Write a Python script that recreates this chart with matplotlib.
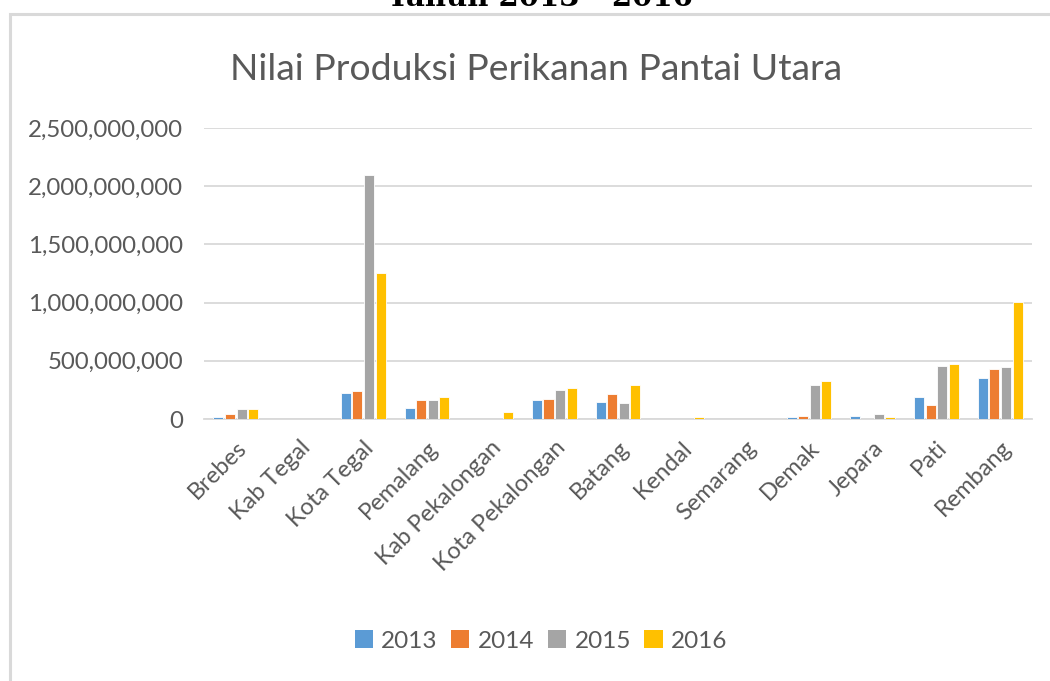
import matplotlib
matplotlib.use("Agg")
import matplotlib.pyplot as plt
from matplotlib.patches import Patch, Rectangle
from matplotlib.ticker import FuncFormatter
import numpy as np

categories = ["Brebes", "Kab Tegal", "Kota Tegal", "Pemalang", "Kab Pekalongan",
              "Kota Pekalongan", "Batang", "Kendal", "Semarang", "Demak",
              "Jepara", "Pati", "Rembang"]
years = ["2013", "2014", "2015", "2016"]
v2013 = [20e6, 0, 226e6, 97e6, 0, 160e6, 149e6, 0, 0, 15e6, 30e6, 186e6, 355e6]
v2014 = [43e6, 0, 240e6, 160e6, 0, 175e6, 215e6, 0, 0, 30e6, 0, 123e6, 432e6]
v2015 = [83e6, 0, 2100e6, 160e6, 0, 252e6, 138e6, 0, 0, 290e6, 45e6, 458e6, 447e6]
v2016 = [83e6, 0, 1258e6, 186e6, 60e6, 266e6, 292e6, 15e6, 0, 327e6, 15e6, 472e6, 1003e6]
series = [v2013, v2014, v2015, v2016]
colors = ["#5B9BD5", "#ED7D31", "#A5A5A5", "#FFC000"]

W, H = 1050, 681
fig = plt.figure(figsize=(W / 100, H / 100), dpi=100)
fig.patch.set_facecolor("white")
txt = "#595959"
font = "Lato"

ax = fig.add_axes([204 / W, 1 - 419 / H, (1032 - 204) / W, (419 - 128) / H])
x = np.arange(len(categories))
pitch, bw = 0.182, 0.158
for i, (vals, c) in enumerate(zip(series, colors)):
    ax.bar(x + (i - 1.5) * pitch, vals, width=bw, color=c, edgecolor="white",
           linewidth=0.6, zorder=3, label=years[i])

ax.set_xlim(-0.5, len(categories) - 0.5)
ax.set_ylim(0, 2.5e9)
ax.set_yticks(np.arange(0, 2.5e9 + 1, 5e8))
ax.yaxis.set_major_formatter(FuncFormatter(lambda v, p: f"{int(v):,}"))
ax.grid(axis="y", color="#D9D9D9", linewidth=1.3, zorder=0)
for s in ["top", "right", "left"]:
    ax.spines[s].set_visible(False)
ax.spines["bottom"].set_color("#D9D9D9")
ax.spines["bottom"].set_linewidth(1.3)
ax.tick_params(axis="both", length=0, colors=txt)
ax.tick_params(axis="y", pad=15)
ax.tick_params(axis="x", pad=13)
for lab in ax.get_yticklabels():
    lab.set_fontfamily(font)
    lab.set_fontsize(17.3)
ax.set_xticks(x)
ax.set_xticklabels(categories, rotation=45, ha="right", va="top",
                   rotation_mode="anchor", fontsize=17, family=font, color=txt)

# chart title
t = fig.text(536 / W, 1 - 70 / H, "Nilai Produksi Perikanan Pantai Utara",
             ha="center", va="center", fontsize=28, family=font, color=txt)
fig.canvas.draw()
wpx = t.get_window_extent().width
t.set_fontsize(28 * 612 / wpx)

# legend
handles = [Patch(facecolor=c, edgecolor="none", label=y) for c, y in zip(colors, years)]
fig.legend(handles=handles, loc="center", bbox_to_anchor=(541 / W, 1 - 641 / H),
           ncol=4, frameon=False, prop={"family": font, "size": 17.5},
           labelcolor=txt, handlelength=0.75, handleheight=0.75,
           handletextpad=0.35, columnspacing=0.55)

# chart area border
fig.add_artist(Rectangle((10 / W, -0.2), 1.5, 1.2 - 14 / H, transform=fig.transFigure,
                         fill=False, edgecolor="#D9D9D9", linewidth=2.2))

# cropped page heading (cut by the top edge, as in the source image)
fig.text(540 / W, 1 - 6 / H, "Tahun 2013 - 2016", ha="center", va="baseline",
         fontsize=21, fontweight="bold", family="DejaVu Serif", color="black")

fig.savefig("out.png", dpi=100, facecolor="white")
